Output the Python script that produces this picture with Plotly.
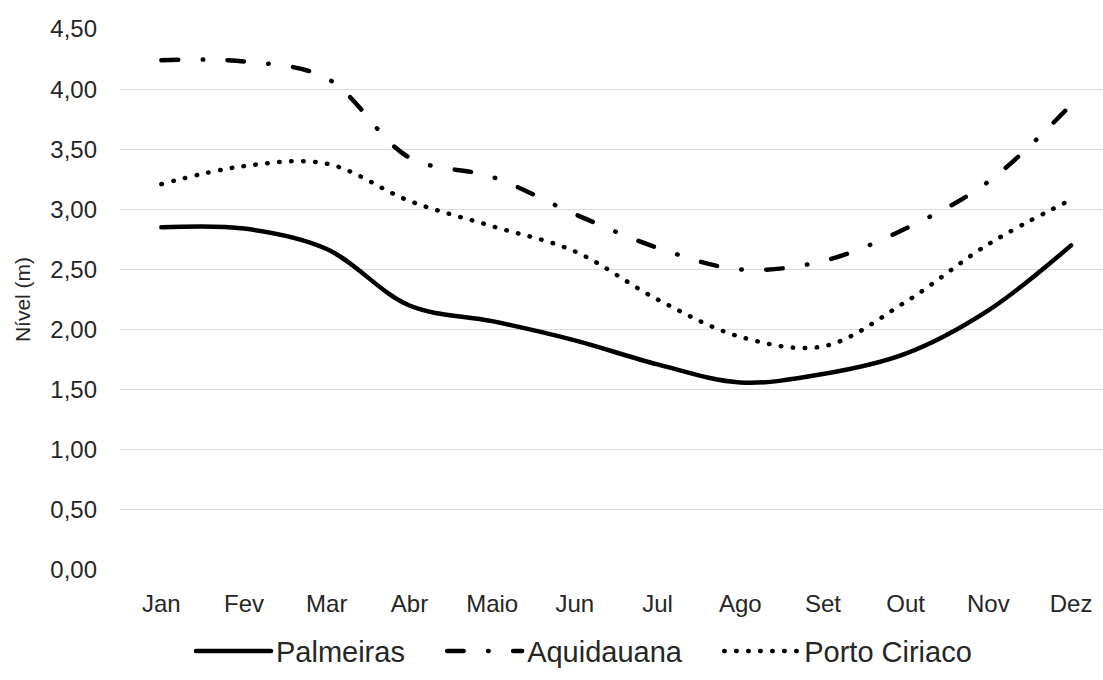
import plotly.graph_objects as go

# Monthly mean water level (m) at three gauging stations
meses = ["Jan", "Fev", "Mar", "Abr", "Maio", "Jun", "Jul", "Ago", "Set", "Out", "Nov", "Dez"]
palmeiras = [2.85, 2.84, 2.67, 2.20, 2.07, 1.91, 1.71, 1.56, 1.63, 1.80, 2.16, 2.70]
aquidauana = [4.24, 4.23, 4.09, 3.43, 3.27, 2.96, 2.68, 2.50, 2.57, 2.84, 3.23, 3.87]
porto_ciriaco = [3.21, 3.36, 3.38, 3.07, 2.86, 2.65, 2.25, 1.94, 1.86, 2.23, 2.71, 3.08]
y_ticks = [0, 0.5, 1.0, 1.5, 2.0, 2.5, 3.0, 3.5, 4.0, 4.5]

FONT = "Liberation Sans, Arial, sans-serif"
TXT = "#262626"
LW = 4.5
PAD = "\u00a0" * 4  # spacing between legend entries

series = [
    ("Palmeiras" + PAD, palmeiras, "solid"),
    ("Aquidauana" + PAD, aquidauana, "16.5px,24.5px,0.5px,24.5px"),
    ("Porto Ciriaco", porto_ciriaco, "0.5px,11.5px"),
]

fig = go.Figure()
for name, vals, dash in series:
    fig.add_trace(go.Scatter(
        x=meses, y=vals, name=name, mode="lines",
        line=dict(color="black", width=LW, dash=dash, shape="spline", smoothing=1.0),
        hoverinfo="skip",
    ))

fig.update_layout(
    width=1103, height=680,
    margin=dict(l=120, r=0, t=29, b=110),
    paper_bgcolor="white", plot_bgcolor="white",
    separators=",.",
    font=dict(family=FONT, color=TXT),
    showlegend=True,
    legend=dict(
        orientation="h", x=0.472, xanchor="center", y=-0.15, yanchor="middle",
        font=dict(size=29, family=FONT, color=TXT),
        itemwidth=75, tracegroupgap=0,
    ),
    xaxis=dict(
        type="category", range=[-0.5, 11.386],
        showgrid=False, zeroline=False, showline=False, ticks="",
        tickfont=dict(size=24, family=FONT, color=TXT),
        ticklabelstandoff=17,
    ),
    yaxis=dict(
        range=[0, 4.5], tickvals=y_ticks, tickformat=".2f",
        showgrid=True, gridcolor="#d9d9d9", gridwidth=1.3,
        zeroline=False, showline=False, ticks="",
        tickfont=dict(size=24, family=FONT, color=TXT),
        ticklabelstandoff=22,
        title=dict(text="Nível (m)", font=dict(size=21, family=FONT, color=TXT), standoff=13),
    ),
)

# round line caps so the dotted patterns render as dots
post = (
    "document.querySelectorAll('path.js-line').forEach(function(p){"
    "p.style.strokeLinecap='round';p.style.strokeLinejoin='round';});"
)

fig.write_html("out.html", post_script=post)
